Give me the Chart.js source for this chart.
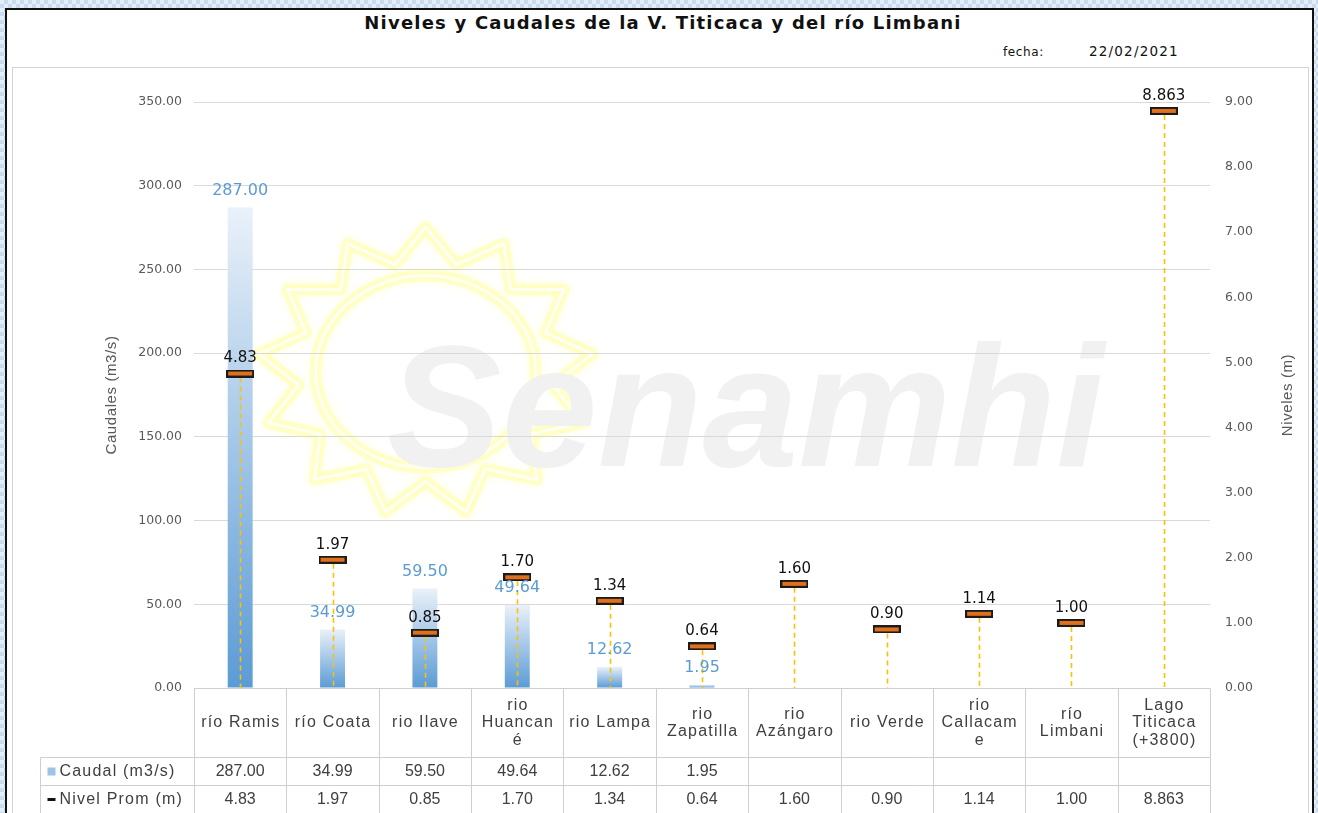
<!DOCTYPE html>
<html lang="es">
<head>
    <meta charset="UTF-8">
    <title>Niveles y Caudales de la V. Titicaca y del río Limbani</title>
    <script src="https://cdn.jsdelivr.net/npm/chart.js"></script>
    <style>
        body {
            margin: 0;
            width: 1318px;
            height: 813px;
            overflow: hidden;
            position: relative;
            background: repeating-conic-gradient(#c9dbf0 0 25%, #e4eef9 0 50%) 0 0 / 8px 8px;
            font-family: Arial, "Liberation Sans", sans-serif;
        }
        .frame {
            position: absolute;
            left: 5px;
            top: 8px;
            width: 1305px;
            height: 830px;
            background: #fff;
            border: 2px solid #111;
        }
        .inner {
            position: absolute;
            left: 12px;
            top: 67px;
            width: 1295px;
            height: 780px;
            border: 1px solid #d4d4d4;
        }
        .title {
            position: absolute;
            left: 0;
            top: 12px;
            width: 1326px;
            text-align: center;
            font: bold 18px "DejaVu Sans", Verdana, sans-serif;
            letter-spacing: 1.2px;
            color: #111;
        }
        .fecha {
            position: absolute;
            top: 45px;
            font: 12px "DejaVu Sans", Verdana, sans-serif;
            letter-spacing: 0.6px;
            color: #111;
        }
        #chart {
            position: absolute;
            left: 13px;
            top: 68px;
        }
    </style>
</head>
<body>
    <div class="frame"></div>
    <div class="inner"></div>
    <div class="title">Niveles y Caudales de la V. Titicaca y del río Limbani</div>
    <div class="fecha" style="left:1003px">fecha:</div>
    <div class="fecha" style="left:1089px;font-size:13.5px;top:43px;letter-spacing:1.2px">22/02/2021</div>
    <canvas id="chart" width="1294" height="745"></canvas>

    <script>
        // chart data
        const categories = [
            ['río Ramis'], ['río Coata'], ['rio Ilave'], ['rio', 'Huancan', 'é'], ['rio Lampa'],
            ['rio', 'Zapatilla'], ['rio', 'Azángaro'], ['rio Verde'], ['rio', 'Callacam', 'e'],
            ['río', 'Limbani'], ['Lago', 'Titicaca', '(+3800)']
        ];
        const caudal = [287.00, 34.99, 59.50, 49.64, 12.62, 1.95, null, null, null, null, null];
        const nivel = [4.83, 1.97, 0.85, 1.70, 1.34, 0.64, 1.60, 0.90, 1.14, 1.00, 8.863];
        const caudalAxis = { min: 0, max: 350, step: 50 };
        const nivelAxis = { min: 0, max: 9, step: 1 };
        const seriesNames = ['Caudal (m3/s)', 'Nivel Prom (m)'];

        const GRAY = '#595959';
        const BLUE = '#5b9bd5';
        const fmt = v => v.toFixed(Math.max(2, (String(v).split('.')[1] || '').length));

        // marker glyph: orange dash with dark outline
        const marker = document.createElement('canvas');
        marker.width = 28;
        marker.height = 8;
        const mctx = marker.getContext('2d');
        mctx.fillStyle = '#1b1b1b';
        mctx.fillRect(0, 0, 28, 8);
        mctx.fillStyle = '#e0701c';
        mctx.fillRect(2, 2, 24, 4);

        // faint Senamhi watermark behind the plot
        const watermark = {
            id: 'watermark',
            beforeDraw(chart) {
                const { ctx, chartArea: a } = chart;
                const cx = a.left + a.width * 0.228, cy = a.top + a.height * 0.46;
                ctx.save();
                ctx.lineJoin = 'round';
                const pts = [];
                const rays = 13;
                for (let i = 0; i < rays * 2; i++) {
                    const ang = -Math.PI / 2 + i * Math.PI / rays;
                    const r = i % 2 === 0 ? 168 : 128;
                    pts.push([cx + Math.cos(ang) * r, cy + Math.sin(ang) * r * 0.86]);
                }
                const path = () => {
                    ctx.beginPath();
                    pts.forEach((p, i) => i ? ctx.lineTo(p[0], p[1]) : ctx.moveTo(p[0], p[1]));
                    ctx.closePath();
                    ctx.moveTo(cx + 110, cy);
                    ctx.ellipse(cx, cy, 110, 96, 0, 0, Math.PI * 2);
                };
                ctx.shadowColor = 'rgba(255, 255, 120, 0.6)';
                ctx.shadowBlur = 8;
                path();
                ctx.strokeStyle = 'rgba(255, 255, 130, 0.35)';
                ctx.lineWidth = 12;
                ctx.stroke();
                ctx.shadowBlur = 0;
                path();
                ctx.strokeStyle = 'rgba(255, 255, 245, 0.95)';
                ctx.lineWidth = 3;
                ctx.stroke();

                ctx.font = 'italic bold 172px Arial, "Liberation Sans", sans-serif';
                ctx.fillStyle = '#f1f1f1';
                ctx.textBaseline = 'alphabetic';
                ctx.fillText('Senamhi', a.left + a.width * 0.19, a.top + a.height * 0.622);
                ctx.restore();
            }
        };

        // dashed drop lines from each level marker to the base
        const dropLines = {
            id: 'dropLines',
            afterDatasetDraw(chart, args) {
                if (args.index !== 0) return;
                const { ctx } = chart;
                const x = chart.scales.x, y1 = chart.scales.y1;
                ctx.save();
                ctx.strokeStyle = '#ffc000';
                ctx.lineWidth = 1.6;
                ctx.setLineDash([5, 4]);
                nivel.forEach((v, i) => {
                    const px = Math.round(x.getPixelForValue(i)) + 0.5;
                    ctx.beginPath();
                    ctx.moveTo(px, y1.getPixelForValue(v) + 4);
                    ctx.lineTo(px, y1.getPixelForValue(0));
                    ctx.stroke();
                });
                ctx.restore();
            }
        };

        // value labels for bars and markers
        const valueLabels = {
            id: 'valueLabels',
            afterDatasetsDraw(chart) {
                const { ctx } = chart;
                const x = chart.scales.x, y = chart.scales.y, y1 = chart.scales.y1;
                ctx.save();
                ctx.textAlign = 'center';
                ctx.textBaseline = 'middle';
                ctx.font = '16px "DejaVu Sans", Verdana, sans-serif';
                ctx.fillStyle = BLUE;
                caudal.forEach((v, i) => {
                    if (v == null) return;
                    ctx.fillText(v.toFixed(2), x.getPixelForValue(i), y.getPixelForValue(v) - 17);
                });
                ctx.font = '15px "DejaVu Sans", Verdana, sans-serif';
                ctx.fillStyle = '#111';
                nivel.forEach((v, i) => {
                    ctx.fillText(fmt(v), x.getPixelForValue(i), y1.getPixelForValue(v) - 15);
                });
                ctx.restore();
            }
        };

        // rotated axis titles
        const axisTitles = {
            id: 'axisTitles',
            afterDraw(chart) {
                const { ctx, chartArea: a } = chart;
                const mid = (a.top + a.bottom) / 2;
                ctx.save();
                ctx.font = '15px Arial, "Liberation Sans", sans-serif';
                ctx.letterSpacing = '0.6px';
                ctx.fillStyle = GRAY;
                ctx.textAlign = 'center';
                ctx.textBaseline = 'middle';
                [['Caudales (m3/s)', 99], ['Niveles (m)', 1275]].forEach(([t, px]) => {
                    ctx.save();
                    ctx.translate(px, mid);
                    ctx.rotate(-Math.PI / 2);
                    ctx.fillText(t, 0, 0);
                    ctx.restore();
                });
                ctx.restore();
            }
        };

        // data table under the plot
        const dataTable = {
            id: 'dataTable',
            afterDraw(chart) {
                const { ctx, chartArea: a } = chart;
                const x = chart.scales.x;
                const n = categories.length;
                const cw = a.width / n;
                const top = Math.round(a.bottom) + 0.5;
                const r1 = top + 69, r2 = r1 + 28, r3 = r2 + 28;
                const labelLeft = 27.5;
                ctx.save();
                ctx.strokeStyle = '#cfcfcf';
                ctx.lineWidth = 1;
                ctx.beginPath();
                ctx.moveTo(a.left, top); ctx.lineTo(a.right, top);
                ctx.moveTo(labelLeft, r1); ctx.lineTo(a.right, r1);
                ctx.moveTo(labelLeft, r2); ctx.lineTo(a.right, r2);
                ctx.moveTo(labelLeft, r1); ctx.lineTo(labelLeft, r3);
                for (let i = 0; i <= n; i++) {
                    const px = Math.round(a.left + i * cw) + 0.5;
                    ctx.moveTo(px, top); ctx.lineTo(px, r3);
                }
                ctx.stroke();

                ctx.fillStyle = '#404040';
                ctx.font = '16px Arial, "Liberation Sans", sans-serif';
                ctx.textAlign = 'center';
                ctx.textBaseline = 'middle';
                const lh = 17.5;
                categories.forEach((lines, i) => {
                    const cx = x.getPixelForValue(i);
                    const y0 = top + 69 / 2 - (lines.length - 1) * lh / 2;
                    ctx.letterSpacing = '1.2px';
                    lines.forEach((t, k) => ctx.fillText(t, cx + 0.6, y0 + k * lh));
                    ctx.letterSpacing = '0px';
                    if (caudal[i] != null) ctx.fillText(caudal[i].toFixed(2), cx, (r1 + r2) / 2);
                    ctx.fillText(fmt(nivel[i]), cx, (r2 + r3) / 2);
                });

                ctx.textAlign = 'left';
                ctx.fillStyle = '#9dc3e6';
                ctx.fillRect(labelLeft + 7, (r1 + r2) / 2 - 4, 8, 8);
                ctx.fillStyle = '#111';
                ctx.fillRect(labelLeft + 7, (r2 + r3) / 2 - 1.5, 8, 3);
                ctx.fillStyle = '#404040';
                ctx.letterSpacing = '1.2px';
                ctx.fillText(seriesNames[0], labelLeft + 19, (r1 + r2) / 2);
                ctx.fillText(seriesNames[1], labelLeft + 19, (r2 + r3) / 2);
                ctx.restore();
            }
        };

        new Chart(document.getElementById('chart'), {
            data: {
                labels: categories.map(l => l.join(' ')),
                datasets: [
                    {
                        type: 'bar',
                        label: seriesNames[0],
                        data: caudal,
                        yAxisID: 'y',
                        order: 1,
                        barPercentage: 0.27,
                        categoryPercentage: 1,
                        backgroundColor(c) {
                            const chart = c.chart;
                            if (!chart.chartArea || c.raw == null) return BLUE;
                            const y = chart.scales.y;
                            const g = chart.ctx.createLinearGradient(0, y.getPixelForValue(c.raw), 0, y.getPixelForValue(0));
                            g.addColorStop(0, '#eaf1f9');
                            g.addColorStop(1, '#5b9bd5');
                            return g;
                        }
                    },
                    {
                        type: 'line',
                        label: seriesNames[1],
                        data: nivel,
                        yAxisID: 'y1',
                        order: 0,
                        showLine: false,
                        pointStyle: marker,
                        pointRadius: 10
                    }
                ]
            },
            options: {
                responsive: false,
                animation: false,
                layout: { padding: { left: 0, right: 0, top: 34, bottom: 125 } },
                plugins: {
                    legend: { display: false },
                    tooltip: { enabled: false }
                },
                scales: {
                    x: { display: false },
                    y: {
                        position: 'left',
                        min: caudalAxis.min,
                        max: caudalAxis.max,
                        ticks: {
                            stepSize: caudalAxis.step,
                            padding: 12,
                            color: GRAY,
                            font: { family: '"DejaVu Sans", Verdana, sans-serif', size: 12.5 },
                            callback: v => v.toFixed(2)
                        },
                        grid: { color: '#d9d9d9', drawTicks: false },
                        border: { display: false },
                        afterFit(s) { s.width = 181; }
                    },
                    y1: {
                        position: 'right',
                        min: nivelAxis.min,
                        max: nivelAxis.max,
                        ticks: {
                            stepSize: nivelAxis.step,
                            padding: 15,
                            color: GRAY,
                            font: { family: '"DejaVu Sans", Verdana, sans-serif', size: 12.5 },
                            callback: v => v.toFixed(2)
                        },
                        grid: { display: false, drawTicks: false },
                        border: { display: false },
                        afterFit(s) { s.width = 97; }
                    }
                }
            },
            plugins: [watermark, dropLines, valueLabels, axisTitles, dataTable]
        });
    </script>
</body>
</html>
